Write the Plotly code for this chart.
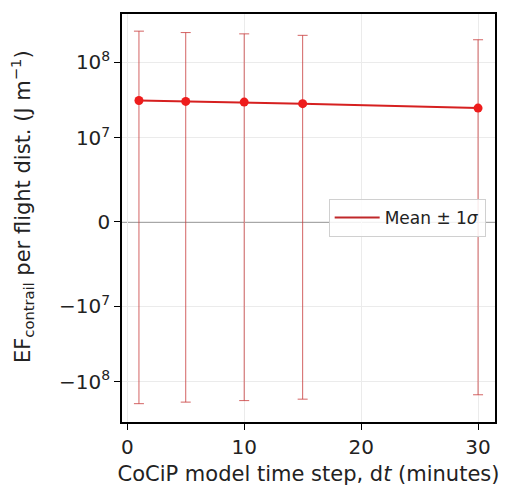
import numpy as np
import plotly.graph_objects as go

# Data
time_step = [1, 5, 10, 15, 30]
ef_mean = [3.13e7, 3.04e7, 2.98e7, 2.84e7, 2.48e7]
ef_sigma = [2.27e8, 2.17e8, 2.08e8, 1.99e8, 1.74e8]
ytick_vals = [-1e8, -1e7, 0, 1e7, 1e8]
ytick_text = ["\u221210<sup>8</sup>", "\u221210<sup>7</sup>", "0", "10<sup>7</sup>", "10<sup>8</sup>"]
xtick_vals = [0, 10, 20, 30]

LINTHRESH = 1e7
LINSCALE = 1.0 / (1.0 - 1.0 / 10.0)


def symlog(v):
    v = np.asarray(v, dtype=float)
    a = np.abs(v)
    out = np.where(a <= LINTHRESH, v / LINTHRESH * LINSCALE,
                   np.sign(v) * (LINSCALE + np.log10(np.maximum(a, 1e-300) / LINTHRESH)))
    return out


m = np.array(ef_mean)
s = np.array(ef_sigma)
ym = symlog(m)
yu = symlog(m + s)
yl = symlog(m - s)

FONT = "DejaVu Sans"

fig = go.Figure()
fig.add_trace(go.Scatter(
    x=time_step, y=ym, mode="lines+markers",
    line=dict(color="#d62020", width=2),
    marker=dict(color="#ee1c1c", size=9),
    error_y=dict(type="data", symmetric=False, array=yu - ym, arrayminus=ym - yl,
                 color="rgba(200,60,60,0.8)", thickness=1, width=5),
    showlegend=False,
))
fig.add_trace(go.Scatter(
    x=[None], y=[None], mode="lines",
    line=dict(color="#c0282a", width=2),
    name="Mean \u00b1 1<i>\u03c3</i>",
))

fig.add_hline(y=0, line=dict(color="rgba(60,60,60,0.9)", width=1.2), layer="below")

# y-axis title as a rotated annotation for exact placement
fig.add_annotation(
    text="EF<sub>contrail</sub> per flight dist. (J m<sup>\u22121</sup>)",
    xref="paper", yref="paper", x=-0.268, y=0.527,
    xanchor="center", yanchor="middle", textangle=-90, showarrow=False,
    font=dict(size=21, color="#222", family=FONT),
)

# page body has an 8px default margin, so size and margins compensate for it
fig.update_layout(
    width=502, height=482,
    margin=dict(l=114, r=15, t=4, b=68),
    paper_bgcolor="white", plot_bgcolor="white",
    font=dict(family=FONT, size=17.5, color="#222"),
    legend=dict(x=0.975, y=0.5, xanchor="right", yanchor="middle",
                bgcolor="rgba(255,255,255,0.85)", bordercolor="#d0d0d0", borderwidth=1,
                itemwidth=45,
                font=dict(size=17, color="#222")),
)
fig.update_xaxes(
    range=[-0.45, 31.45], tickvals=xtick_vals,
    showgrid=True, gridcolor="#ebebeb", gridwidth=1,
    showline=True, linecolor="black", linewidth=1.5, mirror=True,
    ticks="outside", ticklen=6, tickcolor="black",
    tickfont=dict(size=20),
    zeroline=False,
    title=dict(text="CoCiP model time step, d<i>t</i> (minutes)", standoff=9),
)
fig.update_yaxes(
    range=[-2.645, 2.75], tickvals=list(symlog(ytick_vals)), ticktext=ytick_text,
    showgrid=True, gridcolor="#ebebeb", gridwidth=1,
    showline=True, linecolor="black", linewidth=1.5, mirror=True,
    ticks="outside", ticklen=6, tickcolor="black",
    tickfont=dict(size=20),
    zeroline=False,
)

fig.write_html("out.html")
